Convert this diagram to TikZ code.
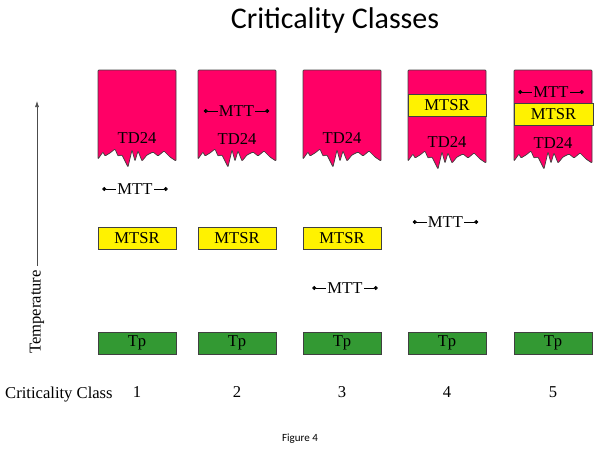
\documentclass[tikz,border=0pt]{standalone}
\usepackage{fontspec}
\setmainfont{Liberation Serif}
\newfontfamily\calibri{Carlito}
\usepackage{tikz}
\usetikzlibrary{arrows.meta,positioning}
\definecolor{tdred}{HTML}{FF0066}
\definecolor{tpgreen}{HTML}{339933}
\definecolor{edgegray}{HTML}{404040}
\tikzset{
  tdbox/.style={draw=edgegray, line width=0.7pt, fill=tdred, rounded corners=0.8pt},
  mtsrbox/.style={draw=edgegray, line width=0.7pt, fill=yellow, minimum width=78pt, minimum height=22pt, inner sep=0pt, font=\fontsize{16.6}{19}\selectfont},
  tpbox/.style={draw=edgegray, line width=0.7pt, fill=tpgreen, minimum width=78pt, minimum height=22pt, inner sep=0pt, font=\fontsize{16.6}{19}\selectfont},
  lab/.style={inner sep=1pt, font=\fontsize{16.6}{19}\selectfont},
  marr/.style={{Circle[length=4pt]}-, line width=0.6pt},
  tarr/.style={-{Latex[length=6pt,width=4pt]}, line width=0.6pt, draw=black!70}
}
% red TD24 block with a torn bottom edge: #1 = left x, #2 = bottom y
\newcommand\tdshape[2]{%
  \filldraw[tdbox] (#1,70) -- (#1,#2) -- ++(5,-7) -- ++(2,4) -- ++(5,-3) -- ++(5,-4) -- ++(3,7) -- ++(4,-1) -- ++(6,12) -- ++(4,-17) -- ++(3,11) -- ++(3,-10) -- ++(4,10) -- ++(5,-6) -- ++(6,-3) -- ++(5,4) -- ++(6,-5) -- ++(6,6) -- ++(6,4) -- ({#1+78},70) -- cycle;}

\begin{document}
\begin{tikzpicture}[x=1pt, y=-1pt]
\useasboundingbox (0,0) rectangle (614,450);
\node[font=\calibri\fontsize{30}{36}\selectfont] (title) at (335,21) {Criticality Classes};

% temperature blocks
\tdshape{98}{159} \tdshape{198}{159} \tdshape{303}{159} \tdshape{408}{161} \tdshape{514}{161}
\node[mtsrbox] (mtsr4) at (447,105.5) {MTSR};
\node[mtsrbox, minimum width=79pt] (mtsr5) at (553.5,114.5) {MTSR};
\node[lab] (td1) at (137,138) {TD24};
\node[lab] (td2) at (237,139) {TD24};
\node[lab] (td3) at (342,138) {TD24};
\node[lab] (td4) at (447,142) {TD24};
\node[lab] (td5) at (553,143) {TD24};

\node[mtsrbox] (mtsr1) at (137,238) {MTSR};
\node[mtsrbox] (mtsr2) at (237,238) {MTSR};
\node[mtsrbox] (mtsr3) at (342,238) {MTSR};

\node[tpbox] (tp1) at (137,343) {Tp};
\node[tpbox] (tp2) at (237,343) {Tp};
\node[tpbox] (tp3) at (342,343) {Tp};
\node[tpbox] (tp4) at (447,343) {Tp};
\node[tpbox] (tp5) at (553,343) {Tp};

% MTT spans
\node[lab] (mtt1) at (135,189) {MTT};
\node[lab] (mtt2) at (236.5,111) {MTT};
\node[lab] (mtt3) at (345,288) {MTT};
\node[lab] (mtt4) at (445.5,222) {MTT};
\node[lab] (mtt5) at (551,92) {MTT};
\coordinate[left=14pt of mtt1] (mtt1a); \coordinate[right=14pt of mtt1] (mtt1b);
\coordinate[left=14pt of mtt2] (mtt2a); \coordinate[right=14pt of mtt2] (mtt2b);
\coordinate[left=14pt of mtt3] (mtt3a); \coordinate[right=14pt of mtt3] (mtt3b);
\coordinate[left=14pt of mtt4] (mtt4a); \coordinate[right=14pt of mtt4] (mtt4b);
\coordinate[left=14pt of mtt5] (mtt5a); \coordinate[right=14pt of mtt5] (mtt5b);
\draw[marr] (mtt1a)--(mtt1.west); \draw[marr] (mtt1b)--(mtt1.east);
\draw[marr] (mtt2a)--(mtt2.west); \draw[marr] (mtt2b)--(mtt2.east);
\draw[marr] (mtt3a)--(mtt3.west); \draw[marr] (mtt3b)--(mtt3.east);
\draw[marr] (mtt4a)--(mtt4.west); \draw[marr] (mtt4b)--(mtt4.east);
\draw[marr] (mtt5a)--(mtt5.west); \draw[marr] (mtt5b)--(mtt5.east);

% axis and class numbers
\node[lab, rotate=90, inner sep=4pt] (temp) at (37,312) {Temperature};
\coordinate (ttop) at (37,101);
\draw[tarr] (temp.east) -- (ttop);
\node[lab, below=31pt of tp1] (n1) {1};
\node[lab, below=31pt of tp2] (n2) {2};
\node[lab, below=31pt of tp3] (n3) {3};
\node[lab, below=31pt of tp4] (n4) {4};
\node[lab, below=31pt of tp5] (n5) {5};
\node[lab, anchor=west] (cc) at (4,395) {Criticality Class};
\node[font=\calibri\fontsize{11}{13}\selectfont] (fig) at (300,439) {Figure 4};
\end{tikzpicture}
\end{document}
